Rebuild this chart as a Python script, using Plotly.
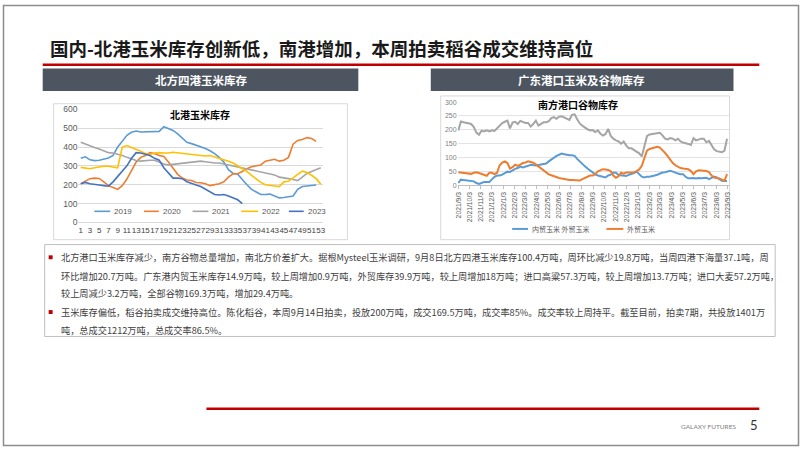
import plotly.graph_objects as go
import pandas as pd

W, H = 802, 451
def P(x): return x / W
def Q(y): return 1 - y / H

# ---------------- data: north four ports corn stock (weekly, 10k t) ----------------
weeks = list(range(1, 54))
week_ticks = list(range(1, 54, 2))
north_names = ["2019", "2020", "2021", "2022", "2023"]
north_2019 = [340, 348, 332, 328, 330, 335, 342, 355, 400, 430, 462, 478, 485, 480, 480, 480, 480, 483, 508, 500,
              488, 470, 450, 425, 418, 410, 400, 392, 380, 365, 345, 320, 280, 260, 255, 225, 200, 175, 160, 148,
              148, 150, 140, 130, 132, 135, 140, 175, 190, 193, 196, 198]
north_2020 = [205, 220, 232, 235, 233, 215, 195, 185, 175, 195, 230, 275, 320, 345, 355, 370, 365, 355, 350, 320,
              290, 255, 235, 225, 222, 212, 210, 205, 195, 200, 205, 215, 240, 258, 258, 270, 285, 295, 302, 305,
              325, 330, 335, 325, 330, 345, 415, 435, 440, 450, 445, 430]
north_2021 = [425, 415, 405, 398, 390, 380, 370, 368, 362, 355, 345, 335, 328, 325, 328, 330, 330, 318, 310, 305,
              308, 312, 315, 318, 322, 325, 325, 322, 318, 315, 315, 310, 305, 298, 295, 290, 285, 280, 275, 270,
              265, 258, 252, 240, 238, 232, 228, 222, 240, 260, 270, 280, 290]
north_2022 = [292, 288, 285, 290, 295, 298, 298, 295, 290, 400, 408, 398, 390, 378, 365, 360, 368, 370, 368, 368,
              372, 370, 365, 362, 360, 358, 355, 352, 355, 348, 340, 332, 325, 315, 300, 285, 270, 250, 230, 212,
              200, 195, 193, 190, 215, 218, 238, 255, 272, 265, 250, 232, 203]
north_2023 = [205, 212, 205, 200, 198, 195, 192, 215, 245, 270, 300, 340, 370, 368, 360, 355, 340, 330, 290, 260,
              235, 235, 232, 215, 205, 198, 190, 175, 160, 148, 145, 148, 140, 128, 120, 100]
north_series = [north_2019, north_2020, north_2021, north_2022, north_2023]
north_colors = ["#5B9BD5", "#ED7D31", "#A5A5A5", "#FFC000", "#4472C4"]

# ---------------- data: south port grain stock (weekly from 2021-09-03) ----------------
south_start = "2021-09-03"
south_total = [198, 230, 227, 225, 223, 221, 210, 190, 182, 197, 194, 198, 194, 198, 196, 206, 216, 224, 229, 233,
               205, 226, 229, 221, 232, 227, 225, 225, 212, 221, 233, 215, 222, 227, 227, 231, 242, 246, 240, 247,
               249, 244, 239, 236, 254, 256, 238, 223, 215, 208, 202, 198, 199, 192, 198, 186, 179, 185, 203, 178,
               168, 162, 158, 150, 158, 143, 133, 133, 127, 121, 115, 104, 136, 177, 183, 184, 186, 188, 189, 180,
               168, 165, 170, 168, 162, 168, 158, 154, 152, 149, 145, 170, 162, 165, 168, 168, 155, 160, 143, 130,
               123, 120, 119, 125, 168]
south_domestic = [8, 20, 19, 18, 17, 16, 14, 8, 5, 8, 12, 12, 12, 21, 30, 35, 35, 38, 45, 49,
                  48, 55, 59, 62, 67, 64, 66, 70, 74, 72, 71, 73, 74, 75, 78, 86, 93, 100, 106, 110,
                  114, 112, 109, 108, 108, 106, 95, 85, 76, 68, 60, 52, 46, 39, 35, 32, 29, 28, 35, 38,
                  46, 45, 37, 35, 35, 33, 38, 40, 44, 49, 38, 31, 28, 31, 31, 32, 35, 38, 43, 46,
                  47, 50, 52, 49, 45, 42, 40, 40, 30, 25, 25, 26, 24, 26, 25, 25, 27, 22, 28, 31,
                  28, 21, 16, 15, 15]
south_import = [47, 46, 45, 44, 42, 41, 45, 47, 44, 41, 36, 34, 45, 45, 40, 45, 72, 82, 86, 80,
                60, 65, 74, 70, 74, 80, 82, 86, 84, 81, 75, 68, 60, 52, 44, 39, 36, 32, 29, 26,
                24, 22, 20, 19, 19, 18, 17, 17, 22, 26, 32, 35, 35, 40, 50, 55, 58, 57, 55, 50,
                35, 27, 32, 45, 42, 46, 47, 47, 47, 51, 57, 70, 100, 125, 131, 134, 137, 139, 136, 128,
                117, 105, 92, 80, 72, 66, 62, 60, 59, 58, 51, 40, 50, 54, 53, 52, 51, 47, 35, 28,
                27, 24, 20, 16, 40]
south_names = ["总谷物", "内贸玉米 外贸玉米", "外贸玉米"]
south_dates = pd.date_range(south_start, periods=len(south_total), freq="7D")
month_tick_vals = pd.date_range("2021-09-01", "2023-09-01", freq="MS") + pd.Timedelta(days=2)
month_tick_text = [f"{d.year}/{d.month}/3" for d in month_tick_vals]

# ---------------- text ----------------
slide_title = "国内-北港玉米库存创新低，南港增加，本周拍卖稻谷成交维持高位"
header_left = "北方四港玉米库存"
header_right = "广东港口玉米及谷物库存"
chart_title_left = "北港玉米库存"
chart_title_right = "南方港口谷物库存"
body_lines = [
    "北方港口玉米库存减少，南方谷物总量增加，南北方价差扩大。据根Mysteel玉米调研，9月8日北方四港玉米库存100.4万吨，周环比减少19.8万吨，当周四港下海量37.1吨，周",
    "环比增加20.7万吨。广东港内贸玉米库存14.9万吨，较上周增加0.9万吨，外贸库存39.9万吨，较上周增加18万吨；进口高粱57.3万吨，较上周增加13.7万吨；进口大麦57.2万吨，",
    "较上周减少3.2万吨，全部谷物169.3万吨，增加29.4万吨。",
    "玉米库存偏低，稻谷拍卖成交维持高位。陈化稻谷，本周9月14日拍卖，投放200万吨，成交169.5万吨，成交率85%。成交率较上周持平。截至目前，拍卖7期，共投放1401万",
    "吨，总成交1212万吨，总成交率86.5%。",
]
body_y = [258, 277, 295, 314, 332]
bullet_rows = [0, 3]

CJK = "Noto Sans CJK SC"

fig = go.Figure()

for name, vals, col in zip(north_names, north_series, north_colors):
    fig.add_trace(go.Scatter(x=weeks[:len(vals)], y=vals, mode="lines", name=name,
                             line=dict(color=col, width=1.6), xaxis="x", yaxis="y", showlegend=False))

south_colors = ["#A5A5A5", "#5B9BD5", "#ED7D31"]
for name, vals, col in zip(south_names, [south_total, south_domestic, south_import], south_colors):
    fig.add_trace(go.Scatter(x=south_dates, y=vals, mode="lines", name=name,
                             line=dict(color=col, width=2), xaxis="x2", yaxis="y2", showlegend=False))

shapes = []
# outer frame
shapes.append(dict(type="rect", xref="paper", yref="paper", x0=P(0.5), x1=P(801.5), y0=Q(450.5), y1=Q(0.5),
                   line=dict(color="#8C8C8C", width=1.5), layer="above"))
# red rule under title
shapes.append(dict(type="line", xref="paper", yref="paper", x0=P(40), x1=P(762), y0=Q(61), y1=Q(61),
                   line=dict(color="#C00000", width=2.5)))
# header boxes
for x0, x1 in [(40, 358), (431, 736)]:
    shapes.append(dict(type="rect", xref="paper", yref="paper", x0=P(x0), x1=P(x1), y0=Q(88), y1=Q(65),
                       fillcolor="#4D5561", line=dict(width=0), layer="below"))
# chart frames
for x0, x1, y0, y1 in [(51, 347, 101, 240), (441, 732, 93, 240)]:
    shapes.append(dict(type="rect", xref="paper", yref="paper", x0=P(x0), x1=P(x1), y0=Q(y1), y1=Q(y0),
                       line=dict(color="#D9D9D9", width=1), fillcolor="white", layer="below"))
# text box
shapes.append(dict(type="rect", xref="paper", yref="paper", x0=P(42), x1=P(778), y0=Q(339), y1=Q(245),
                   line=dict(color="#BFBFBF", width=1), layer="below"))
for r in bullet_rows:
    yc = body_y[r]
    shapes.append(dict(type="rect", xref="paper", yref="paper", x0=P(46), x1=P(50), y0=Q(yc + 2), y1=Q(yc - 2),
                       fillcolor="#C00000", line=dict(width=0)))
# footer rule
shapes.append(dict(type="line", xref="paper", yref="paper", x0=P(205), x1=P(762), y0=Q(413), y1=Q(413),
                   line=dict(color="#C00000", width=2.5)))

annotations = []
def text(x, y, s, size, color="#404040", anchor="left", bold=False, family=CJK):
    annotations.append(dict(x=P(x), y=Q(y), xref="paper", yref="paper", text=(f"<b>{s}</b>" if bold else s),
                            showarrow=False, xanchor=anchor, yanchor="middle",
                            font=dict(size=size, color=color, family=family)))

text(45, 44, slide_title, 18.5, "#1A1A1A", bold=True)
text(199, 76.5, header_left, 11.5, "white", anchor="center", bold=True)
text(583, 76.5, header_right, 11.5, "white", anchor="center", bold=True)
text(198, 112, chart_title_left, 10, "#000000", anchor="center", bold=True)
text(579, 102, chart_title_right, 10, "#000000", anchor="center", bold=True)
for s, y in zip(body_lines, body_y):
    text(56, y, s, 9.2, "#404040")
text(711, 431, "GALAXY FUTURES", 6.5, "#7F7F7F", anchor="center", family="Lato")
text(757, 430, "5", 13, "#333333", anchor="center", family="Lato")

# manual legends
left_leg = [(92, 108), (142, 157), (191, 207), (240, 257), (288, 303)]
for (a, b), name, col in zip(left_leg, north_names, north_colors):
    shapes.append(dict(type="line", xref="paper", yref="paper", x0=P(a), x1=P(b), y0=Q(211), y1=Q(211),
                       line=dict(color=col, width=1.6)))
    text(b + 2, 211, name, 8, "#595959", family="Liberation Sans")
right_leg = [(513, 529), (608, 625)]
for (a, b), name, col in zip(right_leg, south_names[1:], south_colors[1:]):
    shapes.append(dict(type="line", xref="paper", yref="paper", x0=P(a), x1=P(b), y0=Q(229), y1=Q(229),
                       line=dict(color=col, width=2)))
    text(b + 2, 229, name, 7, "#595959")

fig.update_layout(
    width=W, height=H, margin=dict(l=0, r=0, t=0, b=0),
    paper_bgcolor="white", plot_bgcolor="white",
    shapes=shapes, annotations=annotations,
    xaxis=dict(domain=[P(76), P(322.5)], range=[0.5, 53.5], tickmode="array", tickvals=week_ticks,
               ticktext=[str(t) for t in week_ticks], tickangle=0,
               tickfont=dict(size=8, color="#404040", family="Liberation Sans"),
               showgrid=False, zeroline=False, showline=True, linecolor="#D9D9D9", ticks="", anchor="y"),
    yaxis=dict(domain=[Q(222.3), Q(106.7)], range=[0, 600], dtick=100,
               tickfont=dict(size=8.5, color="#595959", family="Liberation Sans"),
               gridcolor="#D9D9D9", zeroline=False, showline=False, ticks="", anchor="x"),
    xaxis2=dict(domain=[P(458), P(731)], type="date", range=["2021-09-01", "2023-09-05"],
                tickmode="array", tickvals=list(month_tick_vals), ticktext=month_tick_text, tickangle=-90,
                tickfont=dict(size=6.8, color="#595959", family="Liberation Sans"),
                showgrid=False, zeroline=False, showline=True, linecolor="#BFBFBF",
                ticks="outside", ticklen=3, tickcolor="#BFBFBF", anchor="y2"),
    yaxis2=dict(domain=[Q(184.3), Q(99.3)], range=[0, 300], dtick=50,
                tickfont=dict(size=7, color="#7F7F7F", family="Liberation Sans"),
                gridcolor="#E3E3E3", zeroline=False, showline=False, ticks="", anchor="x2"),
)

fig.write_html("out.html", config={"displayModeBar": False})
